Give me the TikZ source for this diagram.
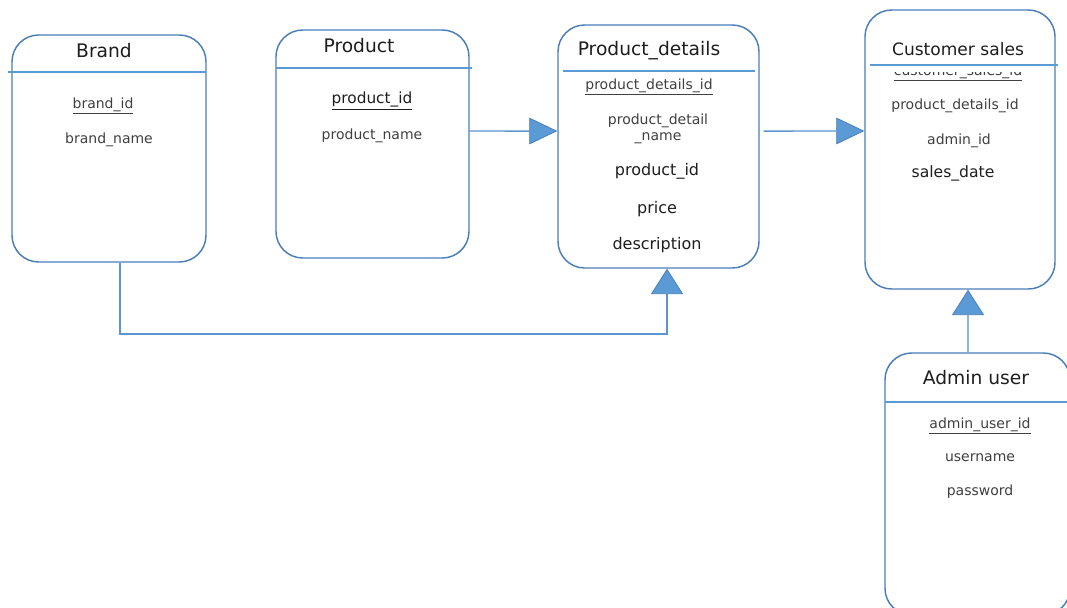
\documentclass[tikz,border=0pt]{standalone}
\usepackage{fontspec}
\setmainfont{DejaVu Sans}
\usetikzlibrary{arrows.meta,calc}
\definecolor{boxedge}{HTML}{4A7EBB}
\definecolor{rulecol}{HTML}{5B9BD5}
\definecolor{linkcol}{HTML}{5B95D2}
\definecolor{tipfill}{HTML}{5B9BD5}
\definecolor{tipedge}{HTML}{4A7EBB}
\definecolor{inkcol}{HTML}{1E1E1E}
\tikzset{
  entity/.style={draw=boxedge, line width=1.1pt, rounded corners=20pt, inner sep=0pt},
  headrule/.style={draw=rulecol, line width=0.9pt},
  title/.style={font=\fontsize{14}{16}\selectfont, text=inkcol, inner sep=0pt},
  attr/.style={font=\fontsize{10.5}{12}\selectfont, text=inkcol!85, inner sep=0pt, yshift=-2pt},
  attrbig/.style={font=\fontsize{12}{14}\selectfont, text=inkcol, inner sep=0pt, yshift=-1.5pt},
  link/.style={draw=linkcol, line width=1.1pt},
  tipright/.style={-{Triangle[length=21pt,width=20pt,fill=tipfill,color=tipedge,line width=0.6pt]}},
  tipup/.style={-{Triangle[length=19pt,width=24pt,fill=tipfill,color=tipedge,line width=0.6pt]}},
}
\begin{document}
\begin{tikzpicture}[x=0.75pt,y=-0.75pt]
\useasboundingbox (0,0) rectangle (1067,607);
\fill[white] (0,0) rectangle (1067,607);

% entity frames
\node[entity, minimum width=145.5pt, minimum height=170.25pt] (brand) at (109,148.5) {};
\node[entity, minimum width=144.75pt, minimum height=171pt] (product) at (372.5,144) {};
\node[entity, minimum width=150.75pt, minimum height=182.25pt] (pd) at (658.5,146.5) {};
\node[entity, minimum width=142.5pt, minimum height=209.25pt] (cs) at (960,149.5) {};
\node[entity, minimum width=138.75pt, minimum height=196.5pt] (admin) at (977.5,484) {};

% header rules
\coordinate (bh1) at (8,72);   \coordinate (bh2) at (206,72);
\coordinate (ph1) at (276,68); \coordinate (ph2) at (472,68);
\coordinate (dh1) at (563,71); \coordinate (dh2) at (755,71);
\coordinate (ch1) at (870,65); \coordinate (ch2) at (1058,65);
\coordinate (ah1) at (885,402); \coordinate (ah2) at (1067,402);
\draw[headrule] (bh1) -- (bh2);
\draw[headrule] (ph1) -- (ph2);
\draw[headrule] (dh1) -- (dh2);
\draw[headrule] (ch1) -- (ch2);
\draw[headrule] (ah1) -- (ah2);

% Brand
\node[title] (brandT) at (104,51) {Brand};
\node[attr] (brandA1) at (103,103) {\underline{brand\_id}};
\node[attr] (brandA2) at (109,137) {brand\_name};

% Product
\node[title] (productT) at (359,46) {Product};
\node[attrbig, font=\fontsize{11.5}{13}\selectfont] (productA1) at (372,99) {\underline{product\_id}};
\node[attr] (productA2) at (372,133) {product\_name};

% Product_details
\node[title] (pdT) at (649,51) {Product\_details};
\node[attr] (pdA1) at (649,84) {\underline{product\_details\_id}};
\node[attr, align=center] (pdA2) at (658,126) {product\_detail\\[0pt]\_name};
\node[attrbig] (pdA3) at (657,169) {product\_id};
\node[attrbig] (pdA4) at (657,207) {price};
\node[attrbig] (pdA5) at (657,243) {description};

% Customer sales
\node[title, font=\fontsize{12.8}{15}\selectfont] (csT) at (958,49) {Customer sales};
\begin{scope}
  \clip (870,72.5) rectangle (1050,82);
  \node[attr, yshift=2pt, anchor=base] (csA1) at (958,75.5) {\underline{customer\_sales\_id}};
\end{scope}
\node[attr] (csA2) at (955,103) {product\_details\_id};
\node[attr] (csA3) at (959,138) {admin\_id};
\node[attrbig, font=\fontsize{11.7}{13}\selectfont] (csA4) at (953,171) {sales\_date};

% Admin user
\node[title] (adminT) at (976,378) {Admin user};
\node[attr] (adminA1) at (980,423) {\underline{admin\_user\_id}};
\node[attr] (adminA2) at (980,455) {username};
\node[attr] (adminA3) at (980,489) {password};

% relationships
\draw[link, tipright] ([yshift=9.75pt]product.east) -- ([yshift=11.6pt]pd.west);
\draw[link, tipright] ([xshift=3pt,yshift=11.6pt]pd.east) -- ([yshift=13.9pt]cs.west);
\coordinate (bend) at (120,334);
\draw[link, tipup] ([xshift=8.25pt]brand.south) -- (bend) -| ([xshift=6.4pt]pd.south);
\coordinate (adm) at ([xshift=-7.1pt]admin.north);
\draw[link, draw=linkcol!70, line width=1.8pt, tipup] (adm) -- (adm |- cs.south);
\end{tikzpicture}
\end{document}
